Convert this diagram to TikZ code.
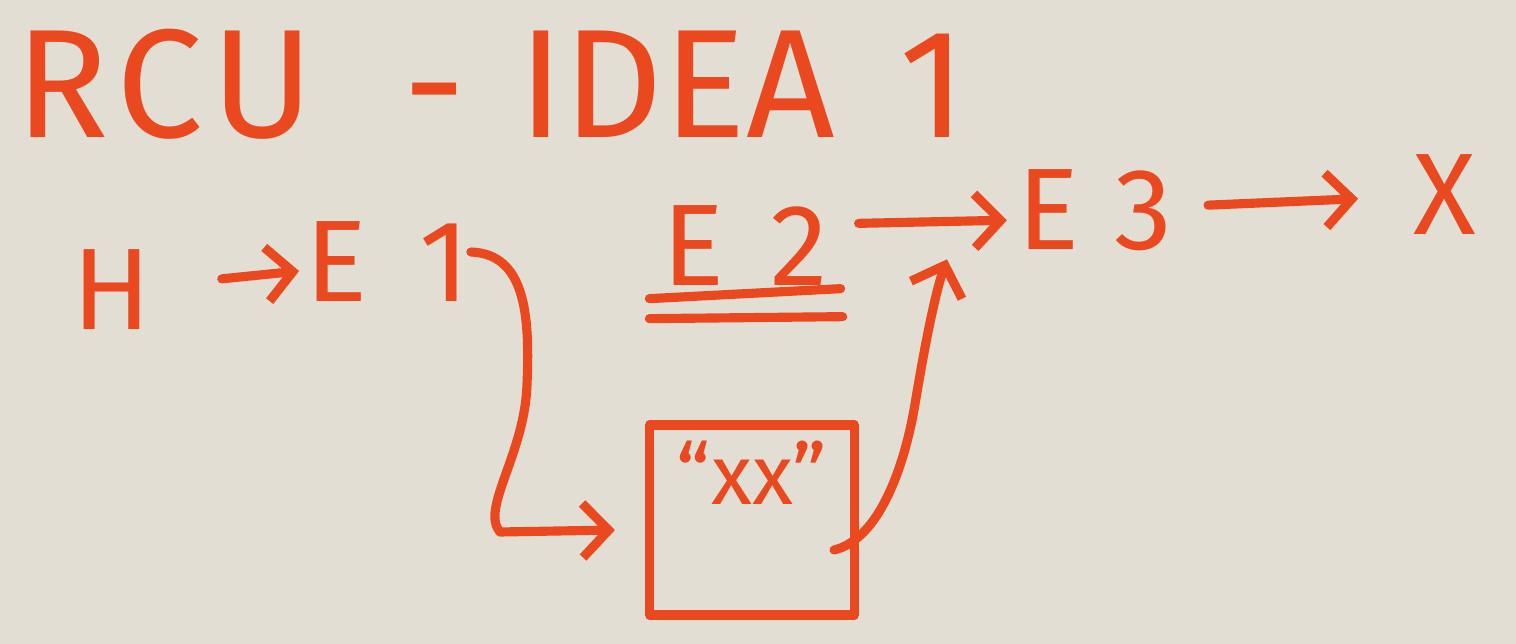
\documentclass[tikz,border=0pt]{standalone}
\usepackage{fontspec}
\setmainfont{Fira Sans}
\usepackage{xcolor}
\usepackage{tikz}
\usetikzlibrary{arrows.meta,positioning}
\definecolor{marker}{RGB}{234,72,30}
\definecolor{board}{RGB}{226,222,212}
\tikzset{>={Straight Barb[length=2.6mm,width=5.4mm]},
    pen/.style={draw=marker, line width=2.6pt, line cap=round, line join=round},
    word/.style={text=marker, inner sep=0pt, font=\fontsize{33}{33}\selectfont}}

\begin{document}
\begin{tikzpicture}[
      memo/.style={pen, minimum width=2.05cm, minimum height=1.9cm, inner sep=0pt}]
  \fill[board] (0,0) rectangle (15.16,6.44);
  \node[word, anchor=west, font=\fontsize{44}{44}\selectfont] (title) at (0.15,5.6)
    {R\hspace{0.05em}C\hspace{0.05em}U\hspace{0.58em}-\hspace{0.34em}IDEA\hspace{0.42em}1};
  \node[word] (h) at (1.12,3.54) {H};
  \node[word] (e1) at (3.88,3.82) {E\hspace{0.45em}1};
  \node[word] (e2) at (7.45,3.98) {E\hspace{0.4em}2};
  \node[word] (e3) at (10.95,4.34) {E\hspace{0.3em}3};
  \node[word] (nil) at (14.45,4.49) {X};
  \node[memo] (mem) at (7.52,1.24) {};
  \node[word, below=0.2cm of mem.north, font=\fontsize{24}{24}\selectfont] (val) {“xx”};
  % Underlined E2
  \draw[pen] ([xshift=-0.12cm,yshift=-0.12cm]e2.south west) -- ([xshift=0.12cm,yshift=-0.02cm]e2.south east);
  \draw[pen] ([xshift=-0.12cm,yshift=-0.32cm]e2.south west) -- ([xshift=0.14cm,yshift=-0.3cm]e2.south east);
  % Chain of pointers
  \draw[pen, ->, shorten <=0.7cm, shorten >=0.06cm] (h) -- (e1);
  \draw[pen, ->, shorten <=0.3cm, shorten >=0.1cm] ([yshift=0.22cm]e2.east) -- ([yshift=-0.1cm]e3.west);
  \draw[pen, ->, shorten <=0.35cm, shorten >=0.55cm] (e3) -- (nil);
  % Copy of E2 and swap
  \draw[pen, ->] ([yshift=0.1cm]e1.east) .. controls (5.25,3.9) and (5.3,3.3) .. (5.27,2.6)
    .. controls (5.25,1.9) and (4.8,1.35) .. (5.0,1.12) -- ([xshift=-0.3cm,yshift=-0.1cm]mem.west);
  \draw[pen, ->] ([xshift=-0.25cm,yshift=-0.3cm]mem.east) .. controls (8.8,1.05) and (9.05,1.8) .. (9.15,2.4)
    .. controls (9.25,3.0) and (9.35,3.5) .. ([xshift=-0.7cm,yshift=-0.08cm]e3.south west);
\end{tikzpicture}
\end{document}
